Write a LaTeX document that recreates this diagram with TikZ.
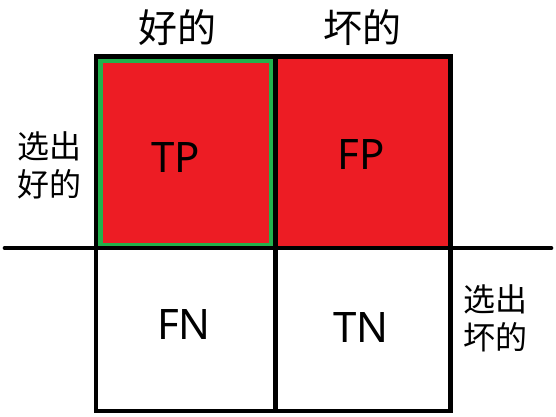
\documentclass[tikz,border=0pt]{standalone}
\usepackage{fontspec}
\setmainfont{Noto Sans}
\newfontfamily\cjk{Noto Sans CJK SC}
\usetikzlibrary{positioning}
\definecolor{cellred}{HTML}{ED1C24}
\definecolor{cellgreen}{HTML}{22B14C}

\begin{document}
\begin{tikzpicture}[x=1pt,y=-1pt,line width=4.7pt,
    cell/.style={draw=none,inner sep=0pt,minimum width=175pt},
    label/.style={inner sep=0pt,font=\fontsize{42}{42}\selectfont},
    head/.style={inner sep=0pt,font=\cjk\fontsize{39}{39}\selectfont},
    side/.style={inner sep=0pt,align=center,font=\cjk\fontsize{32}{38}\selectfont}]
      \useasboundingbox (0,0) rectangle (556,416);

      % cells
      \node[cell, minimum height=189.5pt, fill=cellred] (tp) at (185.75,153.25) {};
      \node[cell, minimum height=189.5pt, fill=cellred] (fp) at (360.75,153.25) {};
      \node[cell, minimum height=160.5pt] (fn) at (185.75,328.25) {};
      \node[cell, minimum height=160.5pt] (tn) at (360.75,328.25) {};

      % green frame
      \draw[cellgreen] ([shift={(4.7pt,-4.7pt)}]tp.north west)
        rectangle ([shift={(-4.7pt,4.7pt)}]tp.south east);

      % grid
      \coordinate (l) at (5,248);
      \coordinate (r) at (551,248);
      \draw (tp.north west) rectangle (tn.south east);
      \draw (tp.north east) -- (fn.south east);
      \draw[line cap=round] (l) -- (r);

      % texts
      \node[label] (ltp) at (175.5,157.5) {TP};
      \node[label] (lfp) at (361,154.5) {FP};
      \node[label] (lfn) at (184,324) {FN};
      \node[label] (ltn) at (361,327) {TN};
      \node[head] (hgood) at (177,28) {好的};
      \node[head] (hbad) at (362,28) {坏的};
      \node[side] (sgood) at (49,165) {选出\\好的};
      \node[side] (sbad) at (495,318) {选出\\坏的};
    \end{tikzpicture}
\end{document}
